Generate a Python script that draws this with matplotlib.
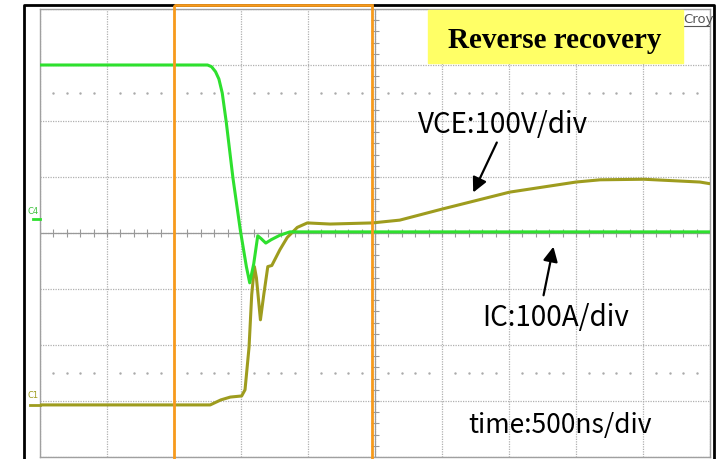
import numpy as np
import matplotlib
matplotlib.use("Agg")
import matplotlib.pyplot as plt
from matplotlib.patches import Rectangle

# scope traces, x in time divisions (0..10), y in vertical divisions (-4..4)
ic_t = [0, 2.5, 2.56, 2.62, 2.67, 2.72, 2.78, 2.88, 2.99, 3.08, 3.13, 3.19,
        3.25, 3.30, 3.37, 3.45, 3.58, 3.73, 10]
ic_v = [3.0, 3.0, 2.97, 2.88, 2.75, 2.5, 1.98, 0.98, 0.05, -0.6, -0.89, -0.55,
        -0.05, -0.1, -0.18, -0.12, -0.04, 0.02, 0.02]

vce_t = [0, 2.54, 2.7, 2.84, 3.01, 3.06, 3.12, 3.16, 3.20, 3.23, 3.29, 3.34,
         3.40, 3.46, 3.58, 3.69, 3.84, 3.99, 4.33, 4.96, 5.37, 6.01, 7.01,
         8.0, 8.36, 9.01, 9.85, 10]
vce_v = [-3.07, -3.07, -2.98, -2.93, -2.91, -2.80, -2.04, -1.1, -0.6, -0.8,
         -1.55, -1.1, -0.6, -0.58, -0.30, -0.08, 0.1, 0.18, 0.16, 0.18, 0.23,
         0.43, 0.73, 0.91, 0.95, 0.96, 0.91, 0.88]

title = "Reverse recovery"
vce_label = "VCE:100V/div"
ic_label = "IC:100A/div"
time_label = "time:500ns/div"

W, H = 717, 459
fig = plt.figure(figsize=(W / 100, H / 100), dpi=100)
fig.patch.set_facecolor("white")

# scope screen
ax = fig.add_axes([40 / W, 1 - 457 / H, 670 / W, 448 / H])
ax.set_xlim(0, 10)
ax.set_ylim(-4, 4)
ax.set_xticks(range(11))
ax.set_yticks(range(-4, 5))
ax.tick_params(length=0, labelbottom=False, labelleft=False)
ax.grid(True, color="#b0b0b0", ls=(0, (1, 1)), lw=0.9)
for s in ax.spines.values():
    s.set_color("#a0a0a0")
    s.set_linewidth(1)

# center crosshair with minor ticks
ax.axhline(0, color="#999999", lw=0.9)
ax.axvline(5, color="#999999", lw=0.9)
mt = np.arange(0, 10.01, 0.2)
ax.plot(mt, np.zeros_like(mt), ls="none", marker="|", ms=6, color="#999999", mew=0.8)
mv = np.arange(-4, 4.01, 0.2)
ax.plot(np.full_like(mv, 5), mv, ls="none", marker="_", ms=6, color="#999999", mew=0.8)
dx = [v for v in mt if abs(v - round(v)) > 0.05]
for yy in (2.5, -2.5):
    ax.plot(dx, [yy] * len(dx), ls="none", marker=".", ms=1.5, color="#aaaaaa")

ax.plot(vce_t, vce_v, color="#9e9c1e", lw=2.2, solid_joinstyle="round", zorder=3)
ax.plot(ic_t, ic_v, color="#2ee02e", lw=2.2, solid_joinstyle="round", zorder=4)

# overlay in pixel coordinates for frame, box and annotations
ov = fig.add_axes([0, 0, 1, 1], facecolor="none")
ov.set_xlim(0, W)
ov.set_ylim(H, 0)
ov.axis("off")

ov.plot([24, 24, 714, 714], [H + 5, 5, 5, H + 5], color="black", lw=2)
ov.add_patch(Rectangle((174, 5), 198, H, fill=False, ec="#f79a1c", lw=2, zorder=5))

ov.text(33, 211, "C4", color="#3cc03c", fontsize=6, ha="center", va="center")
ov.plot([33, 40], [219, 219], color="#2ee02e", lw=2)
ov.text(33, 396, "C1", color="#9e9c1e", fontsize=6, ha="center", va="center")
ov.plot([30, 40], [405, 405], color="#9e9c1e", lw=2)

ov.text(683, 19, "Croy", color="#555555", fontsize=9.5, ha="left", va="center")
ov.plot([683, 709], [26, 26], color="#555555", lw=0.8)
ov.add_patch(Rectangle((428, 10), 255, 53, color="#ffff66", zorder=6))
ov.text(555, 40, title, fontsize=21, fontweight="bold", family="Liberation Serif",
        ha="center", va="center", zorder=7)

fam = ["Noto Sans CJK JP", "DejaVu Sans"]
ov.text(418, 125, vce_label, fontsize=20, family=fam, ha="left", va="center")
ov.text(482, 318, ic_label, fontsize=20, family=fam, ha="left", va="center")
ov.text(468, 425, time_label, fontsize=19, family=fam, ha="left", va="center")

arw = dict(arrowstyle="-|>", color="black", lw=1.6, mutation_scale=22)
ov.annotate("", xy=(472, 195), xytext=(498, 140), arrowprops=arw)
ov.annotate("", xy=(554, 244), xytext=(543, 298), arrowprops=arw)

fig.savefig("out.png", dpi=100)
